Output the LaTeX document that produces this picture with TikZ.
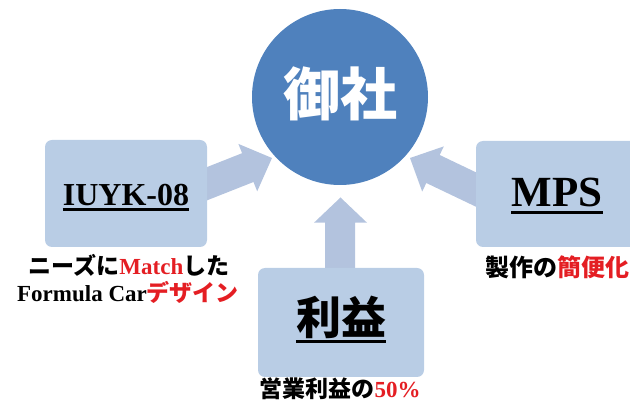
\documentclass[tikz,border=0pt]{standalone}
\usepackage{fontspec}
\setmainfont{Liberation Serif}
\newfontfamily\jp{Noto Sans CJK JP}
\definecolor{circblue}{RGB}{79,129,189}
\definecolor{boxblue}{RGB}{185,205,229}
\definecolor{arrblue}{RGB}{179,195,222}
\definecolor{hired}{RGB}{228,30,35}
\tikzset{
  box/.style={fill=boxblue, rounded corners=7pt},
  blockarrow/.style={fill=arrblue},
  title/.style={inner sep=0pt},
  lbl/.style={inner sep=0pt},
  uline/.style={line width=2.2pt}
}
\begin{document}
\begin{tikzpicture}[x=1pt,y=-1pt]
\useasboundingbox (0,0) rectangle (630,403);
\clip (0,0) rectangle (630,403);
% arrows
\path[blockarrow] (179.1,211.4) -- (253.5,182.0) -- (257.2,191.3) -- (272,158) -- (238.4,143.9) -- (242.1,153.2) -- (167.7,182.6) -- cycle;
\path[blockarrow] (498.5,217.5) -- (426.3,183.0) -- (422.2,191.6) -- (410,158) -- (443.8,146.4) -- (439.7,155.0) -- (511.9,189.5) -- cycle;
\path[blockarrow] (325,270) -- (325,222.7) -- (314,222.7) -- (340.5,197.5) -- (367,222.7) -- (355,222.7) -- (355,270) -- cycle;
% circle
\node[circle, fill=circblue, minimum size=176pt, inner sep=0pt] (c) at (340,97) {};
\node[inner sep=0pt, text=white, font=\jp\bfseries\fontsize{57}{60}\selectfont] (ct) at (340,94) {御社};
% boxes
\path[box] (45,140) rectangle (207,247);
\path[box] (258,268) rectangle (424,377);
\path[box] (476,141) rectangle (650,247);
% titles
\node[title, font=\bfseries\fontsize{32}{36}\selectfont, anchor=base] (t1) at (126,206) {IUYK-08};
\draw[uline] ([yshift=-3.5pt]t1.base west) -- ([yshift=-3.5pt]t1.base east);
\node[title, font=\bfseries\fontsize{43}{46}\selectfont, anchor=base] (t3) at (557,207) {MPS};
\draw[uline] ([yshift=-5.5pt]t3.base west) -- ([yshift=-5.5pt]t3.base east);
\node[title, font=\jp\bfseries\fontsize{45}{48}\selectfont, anchor=base] (t2) at (341,335) {利益};
\draw[uline] ([yshift=-6.5pt]t2.base west) -- ([yshift=-6.5pt]t2.base east);
% labels
\node[lbl, font=\bfseries\fontsize{23}{26}\selectfont] (l1) at (129,265) {{\jp\bfseries ニーズに}{\color{hired}Match}{\jp\bfseries した}};
\node[lbl, font=\bfseries\fontsize{23}{26}\selectfont] (l2) at (128,292) {Formula Car{\color{hired}\jp\bfseries デザイン}};
\node[lbl, font=\bfseries\fontsize{24}{26}\selectfont] (l3) at (557,267) {{\jp\bfseries 製作の}{\color{hired}\jp\bfseries 簡便化}};
\node[lbl, font=\bfseries\fontsize{23}{25}\selectfont] (l4) at (340,389) {{\jp\bfseries 営業利益の}{\color{hired}50\%}};
\end{tikzpicture}
\end{document}
